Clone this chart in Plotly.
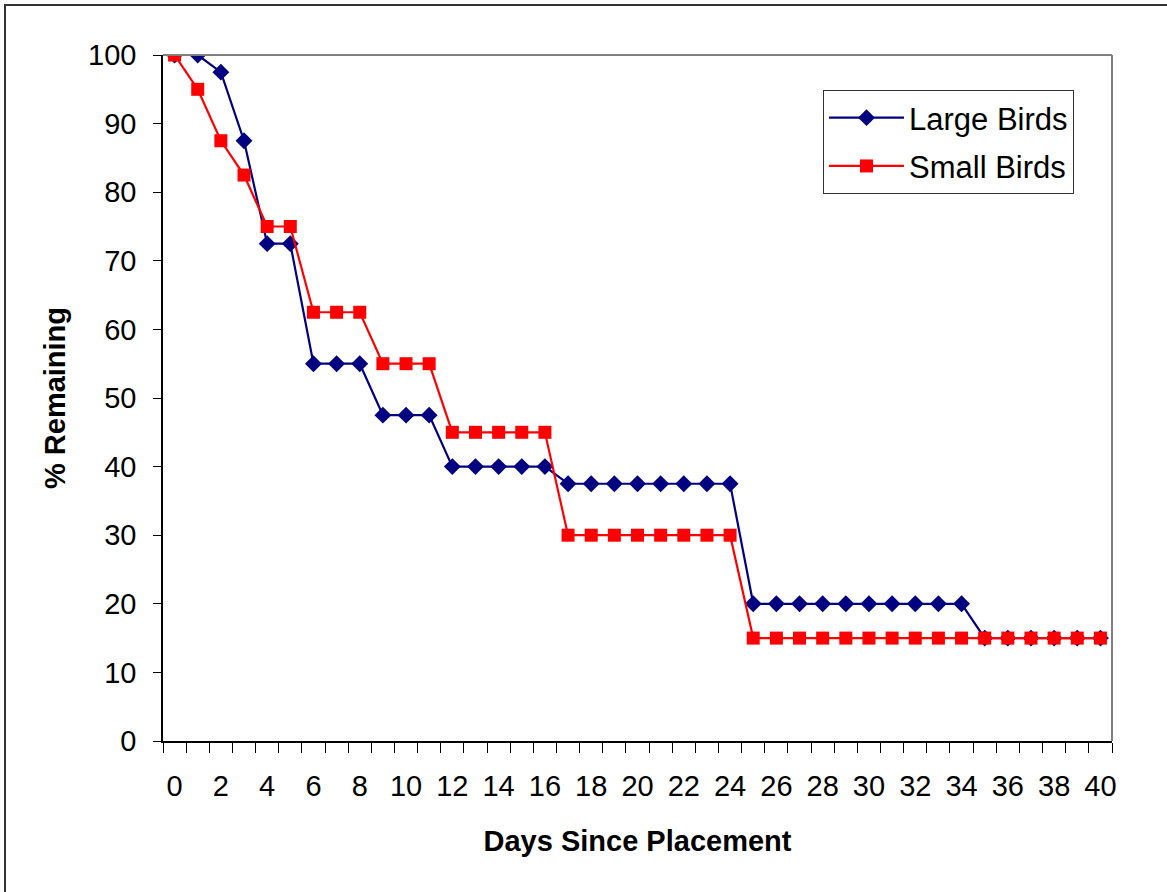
import plotly.graph_objects as go

days = list(range(0, 41))
large_birds = [100, 100, 97.5, 87.5, 72.5, 72.5, 55, 55, 55, 47.5, 47.5, 47.5,
               40, 40, 40, 40, 40,
               37.5, 37.5, 37.5, 37.5, 37.5, 37.5, 37.5, 37.5,
               20, 20, 20, 20, 20, 20, 20, 20, 20, 20,
               15, 15, 15, 15, 15, 15]
small_birds = [100, 95, 87.5, 82.5, 75, 75, 62.5, 62.5, 62.5, 55, 55, 55,
               45, 45, 45, 45, 45,
               30, 30, 30, 30, 30, 30, 30, 30,
               15, 15, 15, 15, 15, 15, 15, 15, 15, 15,
               15, 15, 15, 15, 15, 15]
x_tick_vals = list(range(0, 41, 2))
y_tick_vals = list(range(0, 101, 10))

W, H = 1167, 892
L, R, T, B = 163, 55, 55, 151
pw, ph = W - L - R, H - T - B

FONT = "Liberation Sans, Arial, sans-serif"

fig = go.Figure()
fig.add_trace(go.Scatter(
    x=days, y=large_birds, name="Large Birds", mode="lines+markers",
    legendgroup="a",
    line=dict(color="#000080", width=2.2),
    marker=dict(symbol="diamond", size=13, color="#000080"),
))
fig.add_trace(go.Scatter(
    x=days, y=small_birds, name="Small Birds", mode="lines+markers",
    legendgroup="b",
    line=dict(color="#FF0000", width=2.2),
    marker=dict(symbol="square", size=13, color="#FF0000"),
))

# plot area gray border (top and right)
fig.add_shape(type="line", xref="paper", yref="paper", x0=0, x1=1, y0=1, y1=1,
              line=dict(color="#808080", width=2))
fig.add_shape(type="line", xref="paper", yref="paper", x0=1, x1=1, y0=0, y1=1,
              line=dict(color="#808080", width=2))
# outer chart border
fig.add_shape(type="rect", xref="paper", yref="paper",
              x0=(5 - L) / pw, x1=(W + 20 - L) / pw,
              y0=(H - B - (H + 20)) / ph, y1=(H - B - 5) / ph,
              line=dict(color="#333333", width=2))

fig.update_layout(
    width=W, height=H,
    margin=dict(l=L, r=R, t=T, b=B),
    paper_bgcolor="white", plot_bgcolor="white",
    font=dict(family=FONT, color="black", size=28),
    showlegend=True,
    legend=dict(
        x=(823 - L) / pw, y=(H - B - 90) / ph, xanchor="left", yanchor="top",
        bordercolor="#333333", borderwidth=1, bgcolor="white",
        font=dict(size=31, family=FONT),
        traceorder="grouped", tracegroupgap=5, itemwidth=75,
    ),
    xaxis=dict(
        range=[-0.5, 40.5], tickmode="array", tickvals=x_tick_vals,
        ticktext=[str(v) for v in x_tick_vals],
        ticks="", showgrid=False, zeroline=False,
        showline=True, linecolor="black", linewidth=1.5,
        tickfont=dict(size=29), ticklabelstandoff=18,
        minor=dict(tick0=-0.5, dtick=1, ticks="outside", ticklen=10,
                   tickcolor="black", tickwidth=1, showgrid=False),
        title=dict(text="<b>Days Since Placement</b>", font=dict(size=29), standoff=30),
    ),
    yaxis=dict(
        range=[0, 100], tickmode="array", tickvals=y_tick_vals,
        ticks="outside", ticklen=8, tickcolor="black", tickwidth=1,
        showgrid=False, zeroline=False,
        showline=True, linecolor="black", linewidth=1.5,
        tickfont=dict(size=29), ticklabelstandoff=11,
        title=dict(text="<b>% Remaining</b>", font=dict(size=29), standoff=14),
    ),
)

fig.write_html("out.html", config={"displayModeBar": False},
               post_script="document.body.style.margin='0';")
